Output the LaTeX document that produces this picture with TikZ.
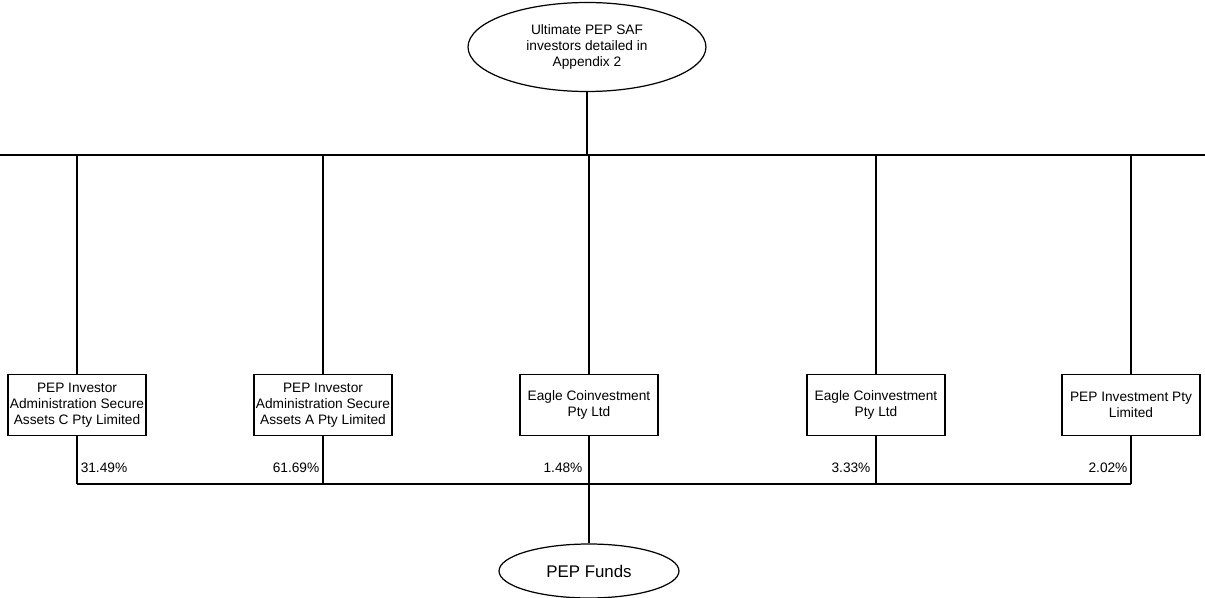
\documentclass[tikz,border=0pt]{standalone}
\usepackage{fontspec}
\setmainfont{Liberation Sans}
\usetikzlibrary{shapes.geometric}
\tikzset{
  every path/.style={line width=0.7pt},
  holder/.style={draw, ellipse, inner sep=0pt, align=center,
    minimum width=4.76cm, minimum height=1.78cm,
    font=\fontsize{7.8}{9.2}\selectfont},
  fundnode/.style={draw, ellipse, inner sep=0pt,
    minimum width=3.6cm, minimum height=1.08cm,
    font=\fontsize{9.6}{11}\selectfont},
  entity/.style={draw, inner sep=0pt, align=center,
    minimum width=2.76cm, minimum height=1.22cm,
    font=\fontsize{7.8}{9.2}\selectfont},
  share/.style={inner sep=0pt, font=\fontsize{7.8}{9.2}\selectfont}
}
\begin{document}
\begin{tikzpicture}[x=0.02cm,y=-0.02cm]
  \useasboundingbox (0,0) rectangle (1205,598);
  % owners and holding entities
  \node [holder] (saf) at (587,47) {Ultimate PEP SAF\\investors detailed in\\Appendix 2};
  \node [entity] (secC) at (77,405) {PEP Investor\\Administration Secure\\Assets C Pty Limited};
  \node [entity] (secA) at (323,405) {PEP Investor\\Administration Secure\\Assets A Pty Limited};
  \node [entity] (eagle1) at (589,405) {Eagle Coinvestment\\Pty Ltd};
  \node [entity] (eagle2) at (876,405) {Eagle Coinvestment\\Pty Ltd};
  \node [entity] (pepinv) at (1131,405) {PEP Investment Pty\\Limited};
  \node [fundnode] (funds) at (589,571) {PEP Funds};
  % percentages
  \node [share] (p1) at (104,468) {31.49\%};
  \node [share] (p2) at (296,468) {61.69\%};
  \node [share] (p3) at (563,468) {1.48\%};
  \node [share] (p4) at (851,468) {3.33\%};
  \node [share] (p5) at (1108,468) {2.02\%};
  % bars
  \coordinate (topbar) at (0,155);
  \coordinate (topend) at (1205,155);
  \coordinate (lowbar) at (77,484);
  \draw (saf) -- (saf |- topbar);
  \draw (topbar) -- (topend);
  \foreach \e in {secC,secA,eagle1,eagle2,pepinv}
    \draw (\e.north |- topbar) -- (\e.north);
  \foreach \e in {secC,secA,eagle1,eagle2,pepinv}
    \draw (\e.south) -- (\e.south |- lowbar);
  \draw (secC.south |- lowbar) -- (pepinv.south |- lowbar);
  \draw (eagle1.south |- lowbar) -- (funds);
\end{tikzpicture}
\end{document}
